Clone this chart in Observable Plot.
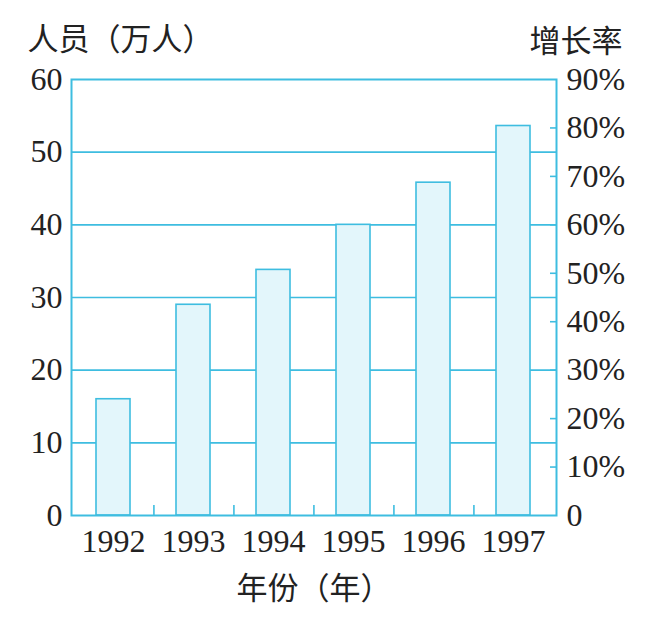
<!DOCTYPE html>
<html>
<head>
<meta charset="utf-8">
<script src="https://cdn.jsdelivr.net/npm/d3@7"></script>
<script src="https://cdn.jsdelivr.net/npm/@observablehq/plot@0.6"></script>
<style>
  html, body { margin: 0; padding: 0; background: #fff; }
</style>
</head>
<body>
<div id="chart"></div>
<script>
// ---- data ----
const years = ["1992", "1993", "1994", "1995", "1996", "1997"];
const people = [16, 29, 33.8, 40, 45.8, 53.6];          // 人员（万人）
const leftTicks = [0, 10, 20, 30, 40, 50, 60];
const gridValues = [10, 20, 30, 40, 50];
const rateTicks = [0, 10, 20, 30, 40, 50, 60, 70, 80, 90]; // 增长率 (%)
const rateMax = 90;
const yMax = 60;
const yLabel = "人员（万人）";
const rightLabel = "增长率";
const xLabel = "年份（年）";

const data = years.map((y, i) => ({year: y, value: people[i]}));

// ---- style ----
const cyan = "#3ebde0";
const fillC = "#e3f6fb";
const serif = "'Liberation Serif', 'Times New Roman', serif";
const cjk = "'Noto Sans CJK SC', sans-serif";

const W = 655, H = 629;
const mL = 71, mR = 99, mT = 79, mB = 114;
const half = (W - mL - mR) / years.length / 2;
const rateToY = p => p / rateMax * yMax;

const chart = Plot.plot({
  width: W,
  height: H,
  marginLeft: mL,
  marginRight: mR,
  marginTop: mT,
  marginBottom: mB,
  style: {background: "#fff", color: "#222", overflow: "visible"},
  x: {domain: years, paddingInner: 0.57, paddingOuter: 0.285, label: null},
  y: {domain: [0, yMax], label: null},
  marks: [
    Plot.ruleY(gridValues, {stroke: cyan, strokeWidth: 1.6}),
    Plot.barY(data, {x: "year", y: "value", fill: fillC, stroke: cyan, strokeWidth: 1.6}),
    Plot.frame({stroke: cyan, strokeWidth: 2}),
    // left axis labels
    Plot.axisY({ticks: leftTicks, tickSize: 0, tickPadding: 9, fontSize: 32,
      fontFamily: serif, label: null, tickFormat: d => String(d)}),
    // right axis inward ticks
    Plot.axisY({anchor: "right", ticks: rateTicks.slice(1, -1).map(rateToY), tickSize: 7, dx: -7,
      stroke: cyan, strokeWidth: 1.6, tickFormat: () => "", label: null}),
    // right axis labels
    Plot.axisY({anchor: "right", ticks: rateTicks.map(rateToY), tickSize: 0, tickPadding: 10,
      fontSize: 32, fontFamily: serif, label: null,
      tickFormat: d => { const p = Math.round(d / yMax * rateMax); return p === 0 ? "0" : p + "%"; }}),
    // bottom ticks at category boundaries, pointing up
    Plot.axisX({ticks: years.slice(0, -1), tickSize: 10, dx: half, dy: -10,
      stroke: cyan, strokeWidth: 1.6, tickFormat: () => "", label: null}),
    // year labels
    Plot.axisX({tickSize: 0, tickPadding: 14, fontSize: 32, fontFamily: serif, label: null}),
    // axis titles
    Plot.text([yLabel], {frameAnchor: "top-left", textAnchor: "start", lineAnchor: "middle",
      dx: -44, dy: -39, fontSize: 31, fontFamily: cjk, fill: "#222"}),
    Plot.text([rightLabel], {frameAnchor: "top-right", textAnchor: "end", lineAnchor: "middle",
      dx: 66, dy: -37, fontSize: 31, fontFamily: cjk, fill: "#222"}),
    Plot.text([xLabel], {frameAnchor: "bottom", textAnchor: "middle", lineAnchor: "middle",
      dy: 74, fontSize: 31, fontFamily: cjk, fill: "#222"})
  ]
});
document.getElementById("chart").appendChild(chart);
</script>
</body>
</html>
